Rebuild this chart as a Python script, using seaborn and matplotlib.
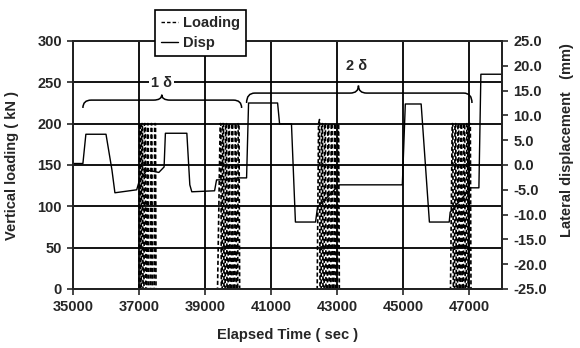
import numpy as np
import pandas as pd
import matplotlib
matplotlib.use("Agg")
import matplotlib.pyplot as plt
import seaborn as sns
from matplotlib.path import Path
from matplotlib.patches import PathPatch
from matplotlib.lines import Line2D

# ---------------- data ----------------
load_time = [35000,
             37000, 37015, 37040, 37055, 37065, 37080, 37105, 37120, 37150, 37165, 37190, 37205,
             37240, 37255, 37280, 37295, 37350, 37365, 37390, 37405, 37460, 37475, 37500, 37515,
             39380, 39460, 39480, 39495, 39520, 39535, 39560, 39575, 39610, 39625, 39650, 39665,
             39700, 39715, 39740, 39755, 39800, 39815, 39840, 39855, 39900, 39915, 39940, 39955,
             39990, 40005, 40030, 40050,
             42400, 42440, 42470, 42485, 42520, 42535, 42560, 42575, 42610, 42625, 42650, 42665,
             42710, 42725, 42750, 42765, 42810, 42825, 42850, 42865, 42910, 42925, 42950, 42965,
             43010, 43025, 43050, 43070,
             46440, 46490, 46510, 46525, 46560, 46575, 46600, 46615, 46650, 46665, 46690, 46705,
             46740, 46755, 46780, 46795, 46830, 46845, 46870, 46885, 46920, 46935, 46960, 46975,
             46990, 47005, 47040, 47060,
             48000]
load_kN = [0,
           0, 200, 200, 0, 0, 200, 200, 0, 0, 200, 200, 0,
           0, 200, 200, 0, 0, 200, 200, 0, 0, 200, 200, 0,
           0, 200, 200, 0, 0, 200, 200, 0, 0, 200, 200, 0,
           0, 200, 200, 0, 0, 200, 200, 0, 0, 200, 200, 0,
           0, 200, 200, 0,
           0, 200, 205, 0, 0, 200, 200, 0, 0, 200, 200, 0,
           0, 200, 200, 0, 0, 200, 200, 0, 0, 200, 200, 0,
           0, 200, 200, 0,
           0, 200, 200, 0, 0, 200, 200, 0, 0, 200, 200, 0,
           0, 200, 200, 0, 0, 200, 200, 0, 0, 200, 200, 0,
           0, 200, 200, 0,
           0]

disp_time = [35000, 35300, 35390, 36000, 36180, 36270, 36930, 37000, 37240, 37600, 37760, 37800, 38450,
             38540, 38600, 39290, 39350, 39450, 40050, 40260, 40320, 41200, 41260, 41620, 41740, 42350,
             42410, 43070, 44980, 45070, 45550, 45800, 46400, 46430, 47060, 47300, 47360, 48000]
disp_mm = [0.3, 0.3, 6.2, 6.2, -1.0, -5.6, -5.0, -3.4, -1.0, -1.5, -0.4, 6.4, 6.4,
           -4.0, -5.4, -5.2, -3.0, -3.0, -2.6, -2.6, 12.5, 12.5, 8.3, 8.3, -11.5, -11.5,
           -8.5, -4.0, -4.0, 12.3, 12.3, -11.5, -11.5, -9.5, -4.6, -4.6, 18.3, 18.3]

x_ticks = [35000, 37000, 39000, 41000, 43000, 45000, 47000]
y_left_ticks = [0, 50, 100, 150, 200, 250, 300]
y_right_ticks = [-25, -20, -15, -10, -5, 0, 5, 10, 15, 20, 25]

load_df = pd.DataFrame({"t": load_time, "load": load_kN})
disp_df = pd.DataFrame({"t": disp_time, "disp": disp_mm})

# ---------------- style ----------------
sns.set_style("white")
plt.rcParams["font.family"] = ["Liberation Sans", "DejaVu Sans"]
FS = 10.5
FW = "bold"

fig = plt.figure(figsize=(5.8, 3.48), dpi=100)
W, H = 580, 348
ax = fig.add_axes([73 / W, 1 - 289 / H, (502 - 73) / W, (289 - 41) / H])

sns.lineplot(data=load_df, x="t", y="load", ax=ax, color="black", linewidth=1.2,
             linestyle=(0, (2.5, 1.5)), estimator=None, sort=False, zorder=3)
ax.set_xlim(35000, 48000)
ax.set_ylim(0, 300)
ax.set_xticks(x_ticks)
ax.set_xticklabels([str(v) for v in x_ticks])
ax.set_yticks(y_left_ticks)
ax.set_yticklabels([str(v) for v in y_left_ticks])
ax.grid(True, color="black", linewidth=1.3)
ax.set_axisbelow(True)
for s in ax.spines.values():
    s.set_color("black")
    s.set_linewidth(1.3)
ax.tick_params(direction="out", length=4, width=1.2, labelsize=FS, pad=4,
               bottom=True, left=True)
for lab in ax.get_xticklabels() + ax.get_yticklabels():
    lab.set_fontweight(FW)
ax.set_xlabel("Elapsed Time ( sec )", fontsize=FS, fontweight=FW, labelpad=10)
ax.set_ylabel("Vertical loading ( kN )", fontsize=FS, fontweight=FW)
ax.yaxis.set_label_coords(-0.125, 0.5)

ax2 = ax.twinx()
sns.lineplot(data=disp_df, x="t", y="disp", ax=ax2, color="black", linewidth=1.0,
             estimator=None, sort=False)
ax2.set_ylim(-25, 25)
ax2.set_yticks(y_right_ticks)
ax2.set_yticklabels([f"{v:.1f}" for v in y_right_ticks])
ax2.tick_params(direction="out", length=4, width=1.2, labelsize=FS, pad=4, right=True)
for lab in ax2.get_yticklabels():
    lab.set_fontweight(FW)
ax2.set_ylabel("Lateral displacement   (mm)", fontsize=FS, fontweight=FW, rotation=90)
ax2.yaxis.set_label_coords(1.135, 0.60)
ax2.set_xlabel("")
for s in ax2.spines.values():
    s.set_linewidth(1.3)


# ---------------- braces ----------------
def brace(a, x0, x1, xm, y_end, y_lvl, y_tip, dx):
    verts = [(x0, y_end), (x0, y_lvl), (x0 + dx, y_lvl),
             (xm - dx, y_lvl), (xm, y_lvl), (xm, y_tip),
             (xm, y_lvl), (xm + dx, y_lvl),
             (x1 - dx, y_lvl), (x1, y_lvl), (x1, y_end)]
    codes = [Path.MOVETO, Path.CURVE3, Path.CURVE3,
             Path.LINETO, Path.CURVE3, Path.CURVE3,
             Path.CURVE3, Path.CURVE3,
             Path.LINETO, Path.CURVE3, Path.CURVE3]
    a.add_patch(PathPatch(Path(verts, codes), facecolor="none", edgecolor="black",
                          linewidth=1.1, zorder=5, clip_on=False))


brace(ax, 35300, 40110, 37690, 219, 228.5, 235, 250)
brace(ax, 40260, 47090, 43650, 225, 237, 246, 250)
ax.text(37690, 249, "1 δ", ha="center", va="center", fontsize=FS, fontweight=FW, zorder=6,
        bbox=dict(facecolor="white", edgecolor="none", pad=1.5))
ax.text(43600, 270, "2 δ", ha="center", va="center", fontsize=FS, fontweight=FW, zorder=6)

# ---------------- legend ----------------
handles = [Line2D([], [], color="black", linewidth=1.0, linestyle=(0, (2.5, 1.5))),
           Line2D([], [], color="black", linewidth=1.0)]
leg = fig.legend(handles, ["Loading", "Disp"], loc="upper left",
                 bbox_to_anchor=(155 / W, 1 - 10 / H), bbox_transform=fig.transFigure,
                 frameon=True, fancybox=False, framealpha=1, edgecolor="black",
                 handlelength=1.2, handletextpad=0.3, borderpad=0.4, labelspacing=0.45,
                 borderaxespad=0, prop={"size": FS, "weight": FW})
leg.get_frame().set_linewidth(1.2)
leg.set_zorder(10)

fig.savefig("out.png", dpi=100)
